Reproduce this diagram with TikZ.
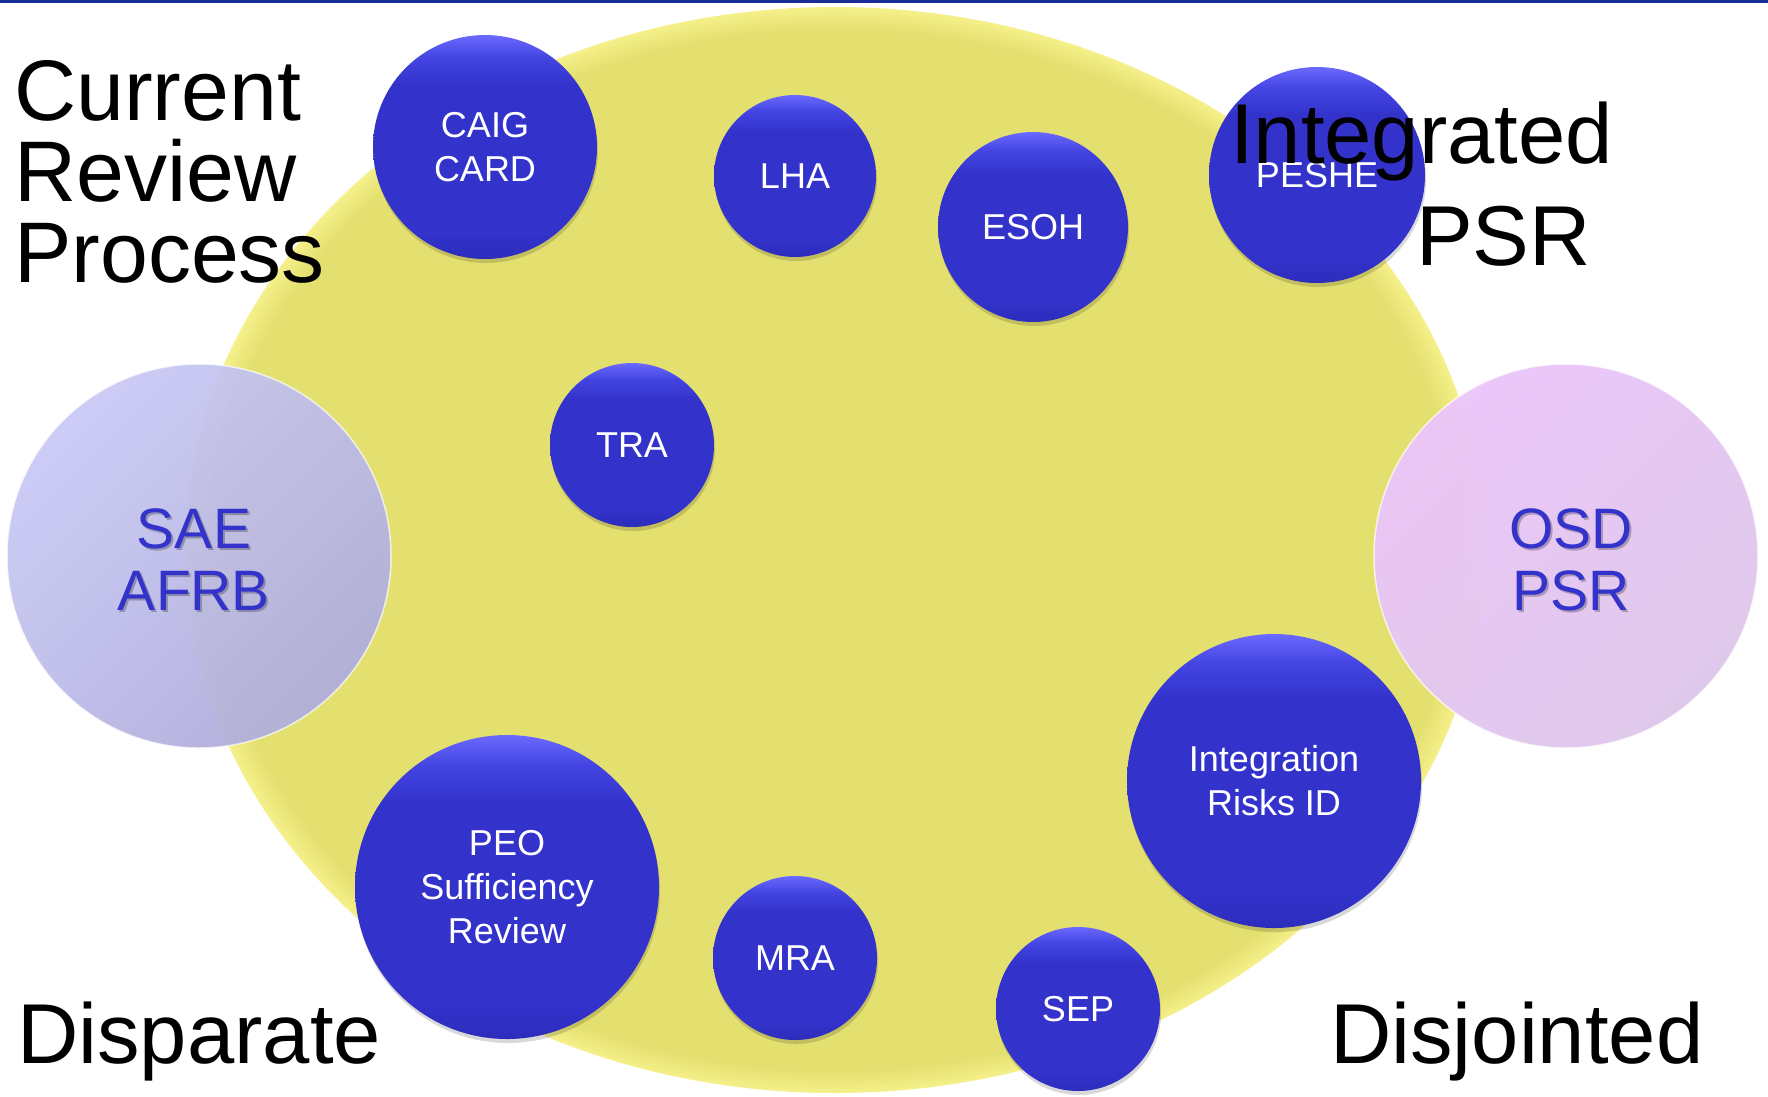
\documentclass[tikz,border=0pt]{standalone}
\usepackage{fontspec}
\setmainfont{Liberation Sans}
\usetikzlibrary{shadows}
\definecolor{btnmain}{RGB}{51,51,204}
\definecolor{btntop}{RGB}{106,106,255}
\definecolor{btnmid}{RGB}{68,68,226}
\definecolor{btnbot}{RGB}{44,44,188}
\definecolor{ymain}{RGB}{228,224,112}
\definecolor{ylight}{RGB}{245,240,138}
\definecolor{saelight}{RGB}{202,202,246}
\definecolor{saedark}{RGB}{176,174,218}
\definecolor{osdlight}{RGB}{236,198,250}
\definecolor{osddark}{RGB}{222,200,234}
\definecolor{labelblue}{RGB}{51,51,204}
\definecolor{topline}{RGB}{24,44,150}
\pgfdeclareverticalshading{btnshade}{100bp}{color(0bp)=(btnbot); color(25bp)=(btnbot); color(31bp)=(btnmain); color(64bp)=(btnmain); color(70bp)=(btnmid); color(75bp)=(btntop); color(100bp)=(btntop)}
\pgfdeclareradialshading{yelshade}{\pgfpoint{0bp}{0bp}}{color(0bp)=(ymain); color(24bp)=(ymain); color(25bp)=(ylight); color(50bp)=(ylight)}
\begin{document}
\begin{tikzpicture}[x=1pt,y=-1pt,
  btn/.style={circle, inner sep=0pt, shade, shading=btnshade, text=white, align=center,
    font=\fontsize{36}{44}\selectfont,
    drop shadow={shadow xshift=1pt, shadow yshift=-4pt, opacity=0.15, fill=black}},
  bigcirc/.style={circle, inner sep=0pt, minimum size=384pt, draw=white, draw opacity=0.7, line width=1.5pt},
  bubtxt/.style={align=center, inner sep=0pt, font=\fontsize{57}{62}\selectfont},
  bigtxt/.style={anchor=base west, inner sep=0pt, text=black, font=\fontsize{86}{81}\selectfont}]
\useasboundingbox (0,0) rectangle (1768,1096);
\fill[white] (0,0) rectangle (1768,1096);
% top rule
\draw[topline, line width=3pt] (0,1.5) -- (1768,1.5);
% yellow ellipse
\shade[shading=yelshade] (835,550) ellipse [x radius=650, y radius=543];
% side circles
\node[bigcirc, fill opacity=0.95, top color=saelight, bottom color=saedark, shading angle=45] (sae) at (199,556) {};
\node[bubtxt, text=black, text opacity=0.25] (saeshadow) at (196,562) {SAE\\AFRB};
\node[bubtxt, text=labelblue] (saetext) at (194,560) {SAE\\AFRB};
\node[bigcirc, fill opacity=0.97, top color=osdlight, bottom color=osddark, shading angle=45] (osd) at (1566,556) {};
\node[bubtxt, text=black, text opacity=0.25] (osdshadow) at (1573,562) {OSD\\PSR};
\node[bubtxt, text=labelblue] (osdtext) at (1571,560) {OSD\\PSR};
% blue buttons
\node[btn, minimum size=224pt] (caig) at (485,147) {CAIG\\CARD};
\node[btn, minimum size=162pt] (lha) at (795,176) {LHA};
\node[btn, minimum size=190pt] (esoh) at (1033,227) {ESOH};
\node[btn, minimum size=216pt] (peshe) at (1317,175) {PESHE};
\node[btn, minimum size=164pt] (tra) at (632,445) {TRA};
\node[btn, minimum size=294pt] (irid) at (1274,781) {Integration\\Risks ID};
\node[btn, minimum size=304pt] (peo) at (507,887) {PEO\\Sufficiency\\Review};
\node[btn, minimum size=164pt] (mra) at (795,958) {MRA};
\node[btn, minimum size=164pt] (sep) at (1078,1009) {SEP};
% large captions
\node[bigtxt] (cur1) at (14,120) {Current};
\node[bigtxt] (cur2) at (14,201) {Review};
\node[bigtxt] (cur3) at (14,282) {Process};
\node[bigtxt, font=\fontsize{85}{85}\selectfont] (int1) at (1230,163) {Integrated};
\node[bigtxt, font=\fontsize{85}{85}\selectfont] (int2) at (1416,265) {PSR};
\node[bigtxt, font=\fontsize{85}{85}\selectfont] (disp) at (17,1063) {Disparate};
\node[bigtxt, font=\fontsize{85}{85}\selectfont] (disj) at (1330,1063) {Disjointed};
\end{tikzpicture}
\end{document}
